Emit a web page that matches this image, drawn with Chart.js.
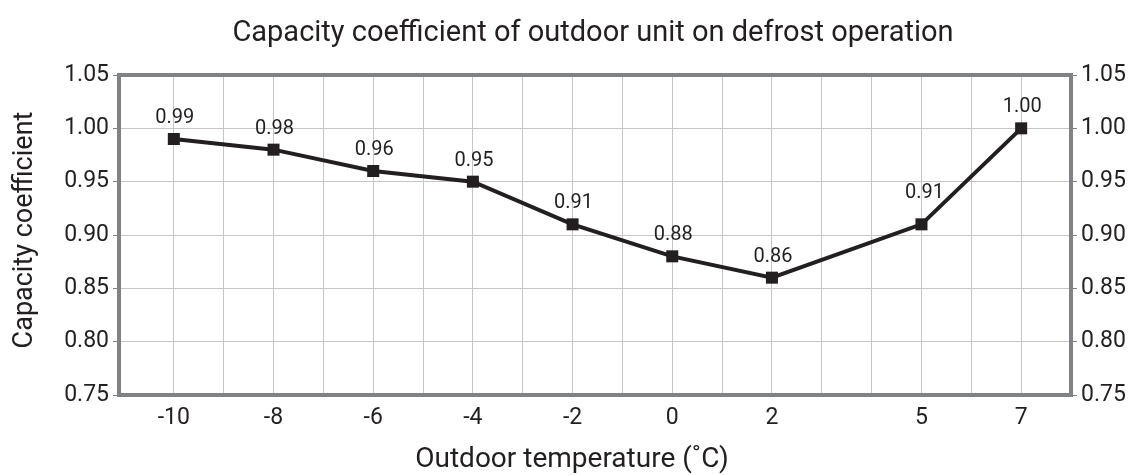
<!DOCTYPE html>
<html>
<head>
<meta charset="utf-8">
<script src="https://cdn.jsdelivr.net/npm/chart.js@4/dist/chart.umd.min.js"></script>
<style>
    html, body { margin: 0; padding: 0; background: #fff; }
    #wrap { width: 1136px; height: 475px; }
</style>
</head>
<body>
<div id="wrap"><canvas id="chart" width="1136" height="475"></canvas></div>
<script>
// Outdoor temperature (°C) and capacity coefficient on defrost
const temps = [-10, -8, -6, -4, -2, 0, 2, 5, 7];
const coeffs = [0.99, 0.98, 0.96, 0.95, 0.91, 0.88, 0.86, 0.91, 1.00];
const yTicks = [0.75, 0.80, 0.85, 0.90, 0.95, 1.00, 1.05];
// vertical grid every degree
const xGrid = [-10, -9, -8, -7, -6, -5, -4, -3, -2, -1, 0, 1, 2, 3, 4, 5, 6, 7];

const chartTitle = 'Capacity coefficient of outdoor unit on defrost operation';
const xTitle = 'Outdoor temperature (˚C)';
const yTitle = 'Capacity coefficient';

const ink = '#231f20';
const gridGray = '#c6c6c6';
const frameGray = '#808285';
const font = 'Roboto';

// chart title and both axis titles
const titles = {
    id: 'titles',
    afterDraw(chart) {
        const ctx = chart.ctx;
        const a = chart.chartArea;
        ctx.save();
        ctx.fillStyle = ink;
        ctx.textAlign = 'center';
        ctx.textBaseline = 'alphabetic';

        ctx.font = '29px ' + font;
        ctx.fillText(chartTitle, (a.left + a.right) / 2 - 2, 41);

        ctx.font = '28px ' + font;
        ctx.fillText(xTitle, (a.left + a.right) / 2 - 23, 467);

        ctx.translate(25, (a.top + a.bottom) / 2 - 5);
        ctx.rotate(-Math.PI / 2);
        ctx.textBaseline = 'middle';
        ctx.font = '27px ' + font;
        ctx.fillText(yTitle, 0, 0);
        ctx.restore();
    }
};

// value labels above the markers
const valueLabels = {
    id: 'valueLabels',
    afterDatasetsDraw(chart) {
        const ctx = chart.ctx;
        const meta = chart.getDatasetMeta(0);
        ctx.save();
        ctx.font = '20px ' + font;
        ctx.fillStyle = ink;
        ctx.textAlign = 'center';
        ctx.textBaseline = 'middle';
        meta.data.forEach((pt, i) => {
            // the rising segment after 5 °C would cross the label, lift it a bit
            const lift = temps[i] === 5 ? 31 : 21;
            ctx.fillText(coeffs[i].toFixed(2), pt.x + (temps[i] === 5 ? 3 : 1), pt.y - lift);
        });
        ctx.restore();
    }
};

// heavy grey frame round the plot area
const frame = {
    id: 'frame',
    beforeDatasetsDraw(chart) {
        const a = chart.chartArea;
        const ctx = chart.ctx;
        ctx.save();
        ctx.strokeStyle = frameGray;
        ctx.lineWidth = 4;
        ctx.strokeRect(a.left, a.top, a.right - a.left, a.bottom - a.top);
        ctx.restore();
    }
};

const yTickOpts = {
    font: { family: font, size: 23 },
    color: ink,
    padding: 4,
    callback: v => v.toFixed(2)
};

new Chart(document.getElementById('chart'), {
    type: 'line',
    data: {
        datasets: [{
            data: temps.map((t, i) => ({ x: t, y: coeffs[i] })),
            borderColor: ink,
            backgroundColor: ink,
            borderWidth: 4,
            pointStyle: 'rect',
            pointRadius: 8.5,
            pointBorderWidth: 0,
            pointHoverRadius: 8.5,
            tension: 0
        }]
    },
    options: {
        responsive: false,
        animation: false,
        events: [],
        layout: { padding: { top: 75 } },
        plugins: {
            legend: { display: false },
            tooltip: { enabled: false },
            title: { display: false }
        },
        scales: {
            x: {
                type: 'linear',
                min: -11.1,
                max: 8,
                afterBuildTicks: s => { s.ticks = xGrid.map(v => ({ value: v })); },
                afterFit: s => { s.height = 80; },
                ticks: {
                    font: { family: font, size: 23 },
                    color: ink,
                    padding: 9,
                    autoSkip: false,
                    maxRotation: 0,
                    callback: v => temps.includes(v) ? String(v) : ''
                },
                grid: { color: gridGray, lineWidth: 1, drawTicks: false },
                border: { display: false }
            },
            y: {
                position: 'left',
                min: 0.75,
                max: 1.05,
                afterBuildTicks: s => { s.ticks = yTicks.map(v => ({ value: v })); },
                afterFit: s => { s.width = 119; },
                ticks: yTickOpts,
                grid: { color: gridGray, lineWidth: 1, tickLength: 6, tickColor: frameGray },
                border: { display: false }
            },
            y2: {
                position: 'right',
                min: 0.75,
                max: 1.05,
                afterBuildTicks: s => { s.ticks = yTicks.map(v => ({ value: v })); },
                afterFit: s => { s.width = 65; },
                ticks: yTickOpts,
                grid: { drawOnChartArea: false, tickLength: 6, tickColor: frameGray },
                border: { display: false }
            }
        }
    },
    plugins: [frame, valueLabels, titles]
});
</script>
</body>
</html>
